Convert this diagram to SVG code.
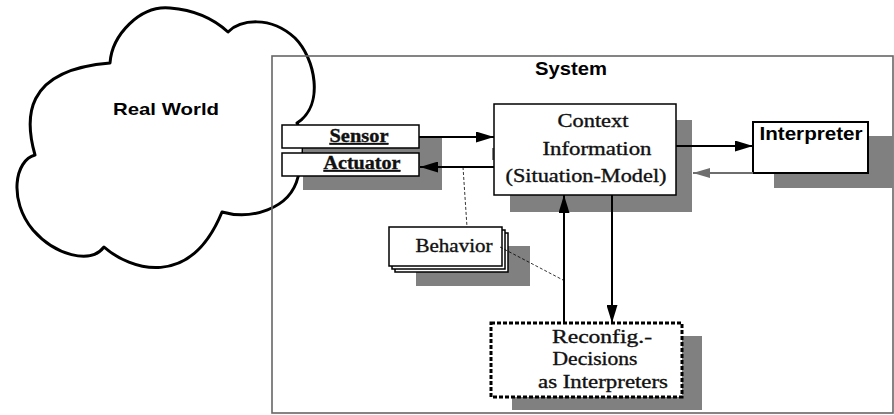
<svg xmlns="http://www.w3.org/2000/svg" width="894" height="415" viewBox="0 0 894 415">
<style>
.shadow{fill:#808080;stroke:none}
.box{fill:#fff;stroke:#000;stroke-width:1.5}
.serif{font-family:"Liberation Serif","Times New Roman",serif;font-size:18px;fill:#111;stroke:#111;stroke-width:0.35}
.sans{font-family:"Liberation Sans",Arial,sans-serif;font-weight:bold;fill:#000}
.arrow{stroke:#000;stroke-width:2;fill:none;marker-end:url(#ah)}
.garrow{stroke:#6e6e6e;stroke-width:2;fill:none;marker-end:url(#gah)}
.dash{stroke:#000;stroke-width:0.8;stroke-dasharray:3,2;fill:none}
</style>
<defs>
<marker id="ah" markerUnits="userSpaceOnUse" markerWidth="18" markerHeight="11" refX="18" refY="5.5" orient="auto">
<path d="M0,0 L18,5.5 L0,11 z" fill="#000"/>
</marker>
<marker id="gah" markerUnits="userSpaceOnUse" markerWidth="17" markerHeight="10" refX="17" refY="5" orient="auto">
<path d="M0,0 L17,5 L0,10 z" fill="#6e6e6e"/>
</marker>
</defs>
<rect width="894" height="415" fill="#fff"/>
<g id="real-world">
<path d="M110 63 C112 35,140 5,170 8 C195 10,215 20,228 32 C240 20,270 15,295 38 C315 58,325 105,297 123 C305 135,305 160,298 177 C290 210,250 220,222 212 C190 290,130 270,104 247 C90 265,55 255,33 230 C8 200,15 160,35 155 C25 120,22 70,110 63 Z" fill="#fff" stroke="#000" stroke-width="3" stroke-linejoin="round"/>
<text class="sans" x="166" y="115" font-size="17" text-anchor="middle" textLength="106" lengthAdjust="spacingAndGlyphs">Real World</text>
</g>
<g id="system">
<rect x="272" y="56" width="621" height="357" fill="none" stroke="#666" stroke-width="1.6"/>
<text class="sans" x="571" y="75" font-size="18" text-anchor="middle" textLength="72" lengthAdjust="spacingAndGlyphs">System</text>
</g>
<g id="sensor-actuator">
<rect class="shadow" x="303" y="137" width="139" height="53"/>
<rect class="box" x="282" y="125" width="137" height="23"/>
<text class="serif" x="359" y="142" text-anchor="middle" font-weight="bold" stroke-width="0" text-decoration="underline" textLength="59" lengthAdjust="spacingAndGlyphs">Sensor</text>
<rect class="box" x="282" y="153" width="137" height="23"/>
<text class="serif" x="362" y="169" text-anchor="middle" font-weight="bold" stroke-width="0" text-decoration="underline" textLength="77" lengthAdjust="spacingAndGlyphs">Actuator</text>
</g>
<g id="context">
<rect class="shadow" x="492" y="148" width="4" height="12"/>
<rect class="shadow" x="510" y="120" width="182" height="92"/>
<rect class="box" x="494" y="104" width="182" height="91"/>
<text class="serif" x="593" y="127" text-anchor="middle" textLength="71" lengthAdjust="spacingAndGlyphs">Context</text>
<text class="serif" x="597" y="155" text-anchor="middle" textLength="109" lengthAdjust="spacingAndGlyphs">Information</text>
<text class="serif" x="586" y="182" text-anchor="middle" textLength="161" lengthAdjust="spacingAndGlyphs">(Situation-Model)</text>
</g>
<g id="interpreter">
<rect class="shadow" x="774" y="136" width="119" height="52"/>
<rect x="753" y="122" width="115" height="51" fill="#fff" stroke="#000" stroke-width="2"/>
<text class="sans" x="811" y="140" font-size="19" text-anchor="middle" textLength="103" lengthAdjust="spacingAndGlyphs">Interpreter</text>
</g>
<g id="behavior">
<rect class="shadow" x="416" y="246" width="114" height="40"/>
<rect class="box" x="395" y="233" width="113" height="39" stroke-width="1"/>
<rect class="box" x="392" y="230" width="113" height="39" stroke-width="1"/>
<rect class="box" x="389" y="227" width="113" height="39" stroke-width="1"/>
<text class="serif" x="454" y="252" text-anchor="middle" textLength="77" lengthAdjust="spacingAndGlyphs">Behavior</text>
</g>
<g id="reconfig">
<rect class="shadow" x="512" y="336" width="190" height="74"/>
<rect x="491" y="323" width="191" height="74" fill="#fff" stroke="#000" stroke-width="3" stroke-dasharray="4,2"/>
<text class="serif" x="602" y="343" text-anchor="middle" textLength="100" lengthAdjust="spacingAndGlyphs">Reconfig.-</text>
<text class="serif" x="595" y="365" text-anchor="middle" textLength="85" lengthAdjust="spacingAndGlyphs">Decisions</text>
<text class="serif" x="603" y="388" text-anchor="middle" textLength="130" lengthAdjust="spacingAndGlyphs">as Interpreters</text>
</g>
<g id="connectors">
<line class="arrow" x1="419" y1="137" x2="494" y2="137"/>
<line class="arrow" x1="494" y1="167" x2="420" y2="167"/>
<line class="arrow" x1="676" y1="146" x2="753" y2="146"/>
<line class="garrow" x1="753" y1="173" x2="693" y2="173"/>
<line class="arrow" x1="564" y1="323" x2="564" y2="195"/>
<line class="arrow" x1="612" y1="195" x2="612" y2="323"/>
<line class="dash" x1="463" y1="167" x2="467" y2="227"/>
<line class="dash" x1="500" y1="247" x2="563" y2="280"/>
</g>
</svg>
